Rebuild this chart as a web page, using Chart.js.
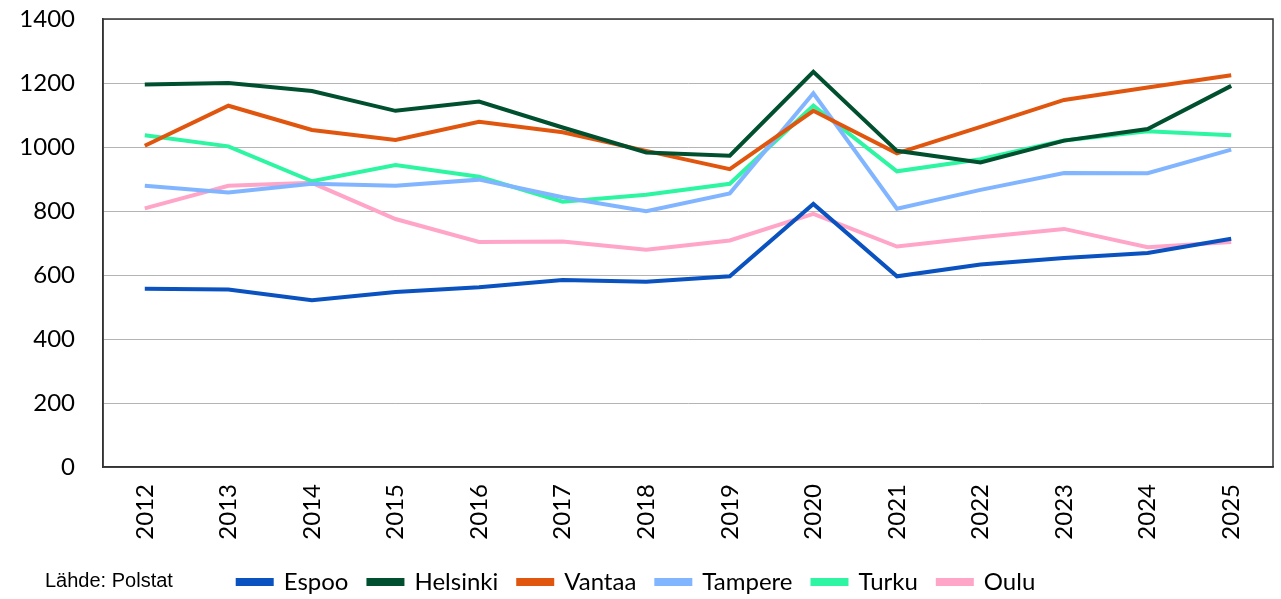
<!DOCTYPE html>
<html>
<head>
<meta charset="utf-8">
<script src="https://cdn.jsdelivr.net/npm/chart.js@4"></script>
<style>
  html, body { margin: 0; padding: 0; background: #fff; }
  #wrap { position: relative; width: 1281px; height: 599px; }
  #source { position: absolute; left: 45px; top: 569px; font: 20px "Liberation Sans", Arial, sans-serif; color: #000; }
</style>
</head>
<body>
<div id="wrap">
  <canvas id="chart" width="1281" height="599"></canvas>
  <div id="source">Lähde: Polstat</div>
</div>
<script>
// years on the category axis
const years = ['2012', '2013', '2014', '2015', '2016', '2017', '2018',
               '2019', '2020', '2021', '2022', '2023', '2024', '2025'];

// values
const espoo    = [557, 555, 521, 547, 562, 584, 579, 596, 822, 596, 633, 653, 669, 713];
const helsinki = [1195, 1200, 1175, 1113, 1142, 1061, 983, 973, 1235, 988, 952, 1020, 1056, 1191];
const vantaa   = [1004, 1129, 1053, 1022, 1079, 1046, 988, 931, 1113, 980, 1063, 1147, 1186, 1224];
const tampere  = [879, 858, 885, 879, 898, 843, 799, 855, 1168, 807, 866, 919, 918, 992];
const turku    = [1037, 1002, 893, 944, 907, 829, 851, 885, 1129, 924, 962, 1020, 1049, 1037];
const oulu     = [808, 879, 888, 775, 703, 705, 679, 708, 791, 689, 718, 744, 687, 703];

const names  = ['Espoo', 'Helsinki', 'Vantaa', 'Tampere', 'Turku', 'Oulu'];
const series = [espoo, helsinki, vantaa, tampere, turku, oulu];
const colors = ['#0a52c0', '#00502f', '#e0560f', '#82b5ff', '#2ef5a2', '#ffa5c8'];

const font = 'Lato, "Open Sans", sans-serif';

// frame round the plot area
const frame = {
  id: 'frame',
  afterDatasetsDraw(chart) {
    const a = chart.chartArea, ctx = chart.ctx;
    ctx.save();
    ctx.strokeStyle = '#333';
    ctx.lineWidth = 1.5;
    ctx.strokeRect(a.left, a.top, a.right - a.left, a.bottom - a.top);
    ctx.restore();
  }
};

new Chart(document.getElementById('chart'), {
  type: 'line',
  data: {
    labels: years,
    datasets: names.map((n, i) => ({
      label: n,
      data: series[i],
      borderColor: colors[i],
      backgroundColor: colors[i],
      borderWidth: 4,
      pointRadius: 0,
      tension: 0
    }))
  },
  options: {
    responsive: false,
    animation: false,
    layout: { padding: { left: 0, right: 8, top: 19, bottom: -5 } },
    plugins: {
      tooltip: { enabled: false },
      legend: {
        position: 'bottom',
        labels: {
          font: { family: font, size: 24 },
          color: '#000',
          boxWidth: 34,
          boxHeight: 4,
          padding: 20
        }
      }
    },
    scales: {
      x: {
        offset: true,
        grid: { display: false, drawTicks: false },
        border: { color: '#333', width: 1.5 },
        ticks: {
          minRotation: 90, maxRotation: 90,
          padding: 17,
          color: '#000',
          font: { family: font, size: 24 }
        },
        afterFit(s) { s.height = 83; s.paddingLeft = 0; s.paddingRight = 0; s.paddingTop = 0; s.paddingBottom = 0; }
      },
      y: {
        min: 0, max: 1400,
        grid: { color: '#b4b4b4', lineWidth: 1, drawTicks: false },
        border: { color: '#333', width: 1.5 },
        ticks: {
          stepSize: 200,
          padding: 28,
          color: '#000',
          font: { family: font, size: 24 },
          callback: v => String(v)
        },
        afterFit(s) { s.width = 103; s.paddingTop = 0; s.paddingBottom = 0; }
      }
    }
  },
  plugins: [frame]
});
</script>
</body>
</html>
